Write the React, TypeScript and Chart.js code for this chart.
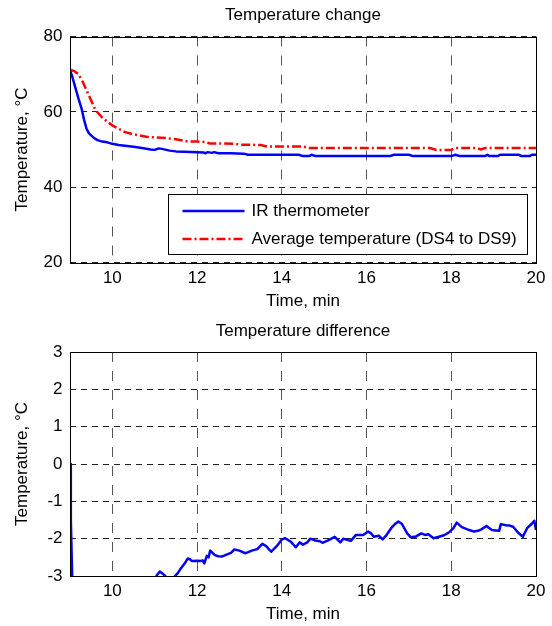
import React, { useEffect, useRef } from "react";
import { Chart, registerables } from "chart.js";

Chart.register(...registerables);

const FONT = "'Liberation Sans', Arial, Helvetica, sans-serif";

// ---- data ----
const titleTop = "Temperature change";
const titleBottom = "Temperature difference";
const xTitle = "Time, min";
const yTitle = "Temperature, °C";
const labelIR = "IR thermometer";
const labelAvg = "Average temperature (DS4 to DS9)";

const xTicks = [10, 12, 14, 16, 18, 20];
const yTicksTop = [20, 40, 60, 80];
const yTicksBottom = [-3, -2, -1, 0, 1, 2, 3];

const timeIR = [
  9.0, 9.05, 9.1, 9.15, 9.2, 9.27, 9.33, 9.39, 9.45, 9.55, 9.65, 9.76, 9.88, 10.0, 10.15, 10.3, 10.5, 10.7,
  10.9, 11.0, 11.1, 11.2, 11.35, 11.5, 11.7, 12.0, 12.15, 12.2, 12.25, 12.35, 12.4, 12.5, 12.8, 13.1, 13.2,
  13.6, 14.0, 14.4, 14.5, 14.65, 14.7, 14.8, 15.2, 15.6, 16.0, 16.55, 16.65, 17.0, 17.1, 17.5, 18.0, 18.1,
  18.2, 18.5, 18.8, 18.85, 18.9, 19.1, 19.15, 19.6, 19.65, 19.85, 19.9, 20.0,
];
const tempIR = [
  71.0, 69.5, 67.5, 65.5, 63.5, 61.0, 58.0, 55.5, 54.3, 53.2, 52.5, 52.1, 51.9, 51.5, 51.2, 51.0, 50.7, 50.4,
  50.0, 49.9, 50.3, 50.1, 49.7, 49.5, 49.4, 49.3, 49.2, 49.0, 49.3, 49.1, 49.3, 49.0, 49.0, 48.9, 48.6,
  48.6, 48.6, 48.6, 48.25, 48.25, 48.6, 48.25, 48.25, 48.25, 48.25, 48.25, 48.6, 48.6, 48.25, 48.25, 48.25, 48.6,
  48.25, 48.25, 48.25, 48.6, 48.25, 48.25, 48.6, 48.6, 48.25, 48.25, 48.6, 48.6,
];

const timeAvg = [
  9.0, 9.1, 9.2, 9.3, 9.4, 9.5, 9.6, 9.75, 9.9, 10.0, 10.15, 10.3, 10.45, 10.6, 10.8, 11.0, 11.3, 11.5, 11.7,
  11.8, 12.0, 12.2, 12.3, 12.6, 12.9, 13.0, 13.5, 13.65, 14.0, 14.5, 14.65, 15.0, 16.0, 17.0, 17.5, 17.65,
  18.0, 18.1, 18.6, 18.7, 18.8, 19.5, 20.0,
];
const tempAvg = [
  71.2, 70.8, 70.0, 68.0, 65.5, 63.0, 60.5, 58.6, 57.2, 56.4, 55.5, 54.6, 54.2, 53.8, 53.4, 53.2, 53.0, 52.7, 52.3,
  52.1, 52.1, 52.0, 51.6, 51.6, 51.5, 51.3, 51.2, 50.8, 50.8, 50.8, 50.4, 50.4, 50.4, 50.4, 50.4, 49.9,
  49.9, 50.4, 50.4, 50.0, 50.4, 50.4, 50.4,
];

const timeDiff = [
  9.0, 9.02, 9.06, 9.15, 9.3, 9.5, 9.8, 10.0, 10.4, 10.8, 11.0, 11.05, 11.12, 11.18, 11.25, 11.32, 11.42, 11.48,
  11.54, 11.62, 11.71, 11.78, 11.83, 11.88, 12.0, 12.08, 12.13, 12.17, 12.23, 12.27, 12.31, 12.42, 12.5, 12.58,
  12.71, 12.8, 12.88, 13.0, 13.13, 13.21, 13.29, 13.42, 13.54, 13.63, 13.75, 13.88, 14.0, 14.08, 14.21, 14.33,
  14.42, 14.5, 14.6, 14.67, 14.79, 14.9, 14.96, 15.08, 15.25, 15.38, 15.45, 15.5, 15.63, 15.75, 15.92, 16.04,
  16.1, 16.17, 16.29, 16.38, 16.46, 16.58, 16.68, 16.75, 16.83, 16.96, 17.04, 17.17, 17.29, 17.38, 17.46, 17.58,
  17.71, 17.83, 17.96, 18.05, 18.13, 18.25, 18.38, 18.46, 18.54, 18.63, 18.71, 18.83, 18.96, 19.05, 19.13, 19.17,
  19.29, 19.38, 19.46, 19.58, 19.69, 19.79, 19.9, 19.96, 20.0,
];
const tempDiff = [
  0.0, -1.5, -3.4, -5.0, -7.5, -8.5, -6.0, -4.9, -4.0, -3.4, -3.1, -2.98, -2.88, -2.93, -3.0, -3.15, -3.1, -3.0,
  -2.93, -2.79, -2.66, -2.53, -2.55, -2.6, -2.59, -2.6, -2.58, -2.66, -2.46, -2.5, -2.32, -2.44, -2.47, -2.48,
  -2.42, -2.38, -2.29, -2.32, -2.39, -2.36, -2.32, -2.28, -2.14, -2.2, -2.35, -2.2, -2.02, -1.99, -2.08, -2.23,
  -2.1, -2.16, -2.1, -2.0, -2.05, -2.07, -2.11, -2.05, -1.95, -2.1, -2.0, -2.02, -2.06, -1.9, -1.9, -1.81,
  -1.85, -1.95, -1.92, -2.02, -1.92, -1.72, -1.6, -1.54, -1.6, -1.86, -1.96, -1.94, -1.86, -1.9, -1.88, -1.99,
  -1.95, -1.91, -1.82, -1.72, -1.57, -1.69, -1.75, -1.78, -1.81, -1.79, -1.75, -1.66, -1.77, -1.78, -1.79, -1.61,
  -1.64, -1.65, -1.68, -1.84, -1.95, -1.72, -1.6, -1.52, -1.77,
];

// ---- helpers ----
const pts = (xs: number[], ys: number[]) => xs.map((x, i) => ({ x, y: ys[i] }));

const boxPlugin = {
  id: "axesBox",
  afterDatasetsDraw(chart: any) {
    const { ctx, chartArea: a } = chart;
    ctx.save();
    ctx.strokeStyle = "#000";
    ctx.lineWidth = 1;
    ctx.setLineDash([]);
    const l = Math.round(a.left) + 0.5;
    const t = Math.round(a.top) + 0.5;
    const r = Math.round(a.right) + 0.5;
    const b = Math.round(a.bottom) + 0.5;
    ctx.strokeRect(l, t, r - l, b - t);
    ctx.restore();
  },
};

const insideLegend = {
  id: "insideLegend",
  afterDraw(chart: any) {
    const { ctx, chartArea: a } = chart;
    const items = chart.data.datasets;
    ctx.save();
    ctx.font = `17px ${FONT}`;
    const textW = Math.max(...items.map((d: any) => ctx.measureText(d.label).width));
    const w = 83 + textW + 11;
    const h = 60;
    const right = Math.round(a.right - 9.5) + 0.5;
    const bottom = Math.round(a.bottom - 9) + 0.5;
    const left = Math.round(right - w) + 0.5;
    const top = bottom - h;
    ctx.fillStyle = "#fff";
    ctx.fillRect(left, top, right - left, h);
    ctx.strokeStyle = "#000";
    ctx.lineWidth = 1;
    ctx.setLineDash([]);
    ctx.strokeRect(left, top, right - left, h);
    items.forEach((d: any, i: number) => {
      const y = top + 16.5 + i * 28;
      ctx.beginPath();
      ctx.strokeStyle = d.borderColor;
      ctx.lineWidth = d.borderWidth;
      ctx.setLineDash(d.borderDash || []);
      ctx.moveTo(left + 14, y);
      ctx.lineTo(left + 76, y);
      ctx.stroke();
      ctx.setLineDash([]);
      ctx.fillStyle = "#000";
      ctx.textBaseline = "middle";
      ctx.textAlign = "left";
      ctx.fillText(d.label, left + 83, y);
    });
    ctx.restore();
  },
};

const font = { family: FONT, size: 17, weight: "normal" as const };

function makeOptions(o: {
  title: string;
  yMin: number;
  yMax: number;
  yTicks: number[];
  titlePad: { top: number; bottom: number };
  xHeight: number;
  xTickPad: number;
  xTitlePad: number;
}) {
  return {
    responsive: false,
    animation: false as const,
    layout: { padding: { left: 0, right: 16, top: 0, bottom: 0 } },
    plugins: {
      legend: { display: false },
      tooltip: { enabled: false },
      title: {
        display: true,
        text: o.title,
        color: "#000",
        font,
        fullSize: false,
        padding: o.titlePad,
      },
    },
    scales: {
      x: {
        type: "linear" as const,
        min: 9,
        max: 20,
        afterBuildTicks: (s: any) => {
          s.ticks = xTicks.map((v) => ({ value: v }));
        },
        afterFit: (s: any) => {
          s.height = o.xHeight;
        },
        ticks: { color: "#000", font, padding: o.xTickPad, maxRotation: 0 },
        grid: { color: "#555", lineWidth: 1, drawTicks: false },
        border: { display: false, dash: [10, 9] },
        title: {
          display: true,
          text: xTitle,
          color: "#000",
          font,
          padding: { top: 0, bottom: o.xTitlePad },
        },
      },
      y: {
        type: "linear" as const,
        min: o.yMin,
        max: o.yMax,
        afterBuildTicks: (s: any) => {
          s.ticks = o.yTicks.map((v) => ({ value: v }));
        },
        afterFit: (s: any) => {
          s.width = 70;
        },
        ticks: { color: "#000", font, padding: 7.5 },
        grid: { color: "#222", lineWidth: 1, drawTicks: false },
        border: { display: false, dash: [6, 5] },
        title: {
          display: true,
          text: yTitle,
          color: "#000",
          font,
          padding: { top: 11.8, bottom: 0 },
        },
      },
    },
  };
}

function ChartCanvas({ config }: { config: () => any }) {
  const ref = useRef<HTMLCanvasElement | null>(null);
  useEffect(() => {
    if (!ref.current) return;
    const chart = new Chart(ref.current, config());
    return () => chart.destroy();
  }, []);
  return <canvas ref={ref} width={552} height={313} style={{ display: "block", width: 552, height: 313 }} />;
}

const topConfig = () => ({
  type: "line",
  data: {
    datasets: [
      {
        label: labelIR,
        data: pts(timeIR, tempIR),
        borderColor: "#0000ff",
        borderWidth: 2.5,
        pointRadius: 0,
        tension: 0,
        borderJoinStyle: "round",
      },
      {
        label: labelAvg,
        data: pts(timeAvg, tempAvg),
        borderColor: "#ff0000",
        borderWidth: 2.5,
        borderDash: [9, 3, 2, 3],
        pointRadius: 0,
        tension: 0,
      },
    ],
  },
  options: makeOptions({
    title: titleTop,
    yMin: 20,
    yMax: 80,
    yTicks: yTicksTop,
    titlePad: { top: 4.8, bottom: 11.3 },
    xHeight: 50.5,
    xTickPad: 6,
    xTitlePad: 1.1,
  }),
  plugins: [boxPlugin, insideLegend],
});

const bottomConfig = () => ({
  type: "line",
  data: {
    datasets: [
      {
        label: "Difference",
        data: pts(timeDiff, tempDiff),
        borderColor: "#0000ff",
        borderWidth: 2.5,
        pointRadius: 0,
        tension: 0,
        borderJoinStyle: "round",
      },
    ],
  },
  options: makeOptions({
    title: titleBottom,
    yMin: -3,
    yMax: 3,
    yTicks: yTicksBottom,
    titlePad: { top: 7.8, bottom: 10.8 },
    xHeight: 50,
    xTickPad: 5.5,
    xTitlePad: 1.8,
  }),
  plugins: [boxPlugin],
});

export default function App() {
  return (
    <div style={{ position: "absolute", left: 0, top: 0, width: 552, height: 626, background: "#fff" }}>
      <ChartCanvas config={topConfig} />
      <ChartCanvas config={bottomConfig} />
    </div>
  );
}
